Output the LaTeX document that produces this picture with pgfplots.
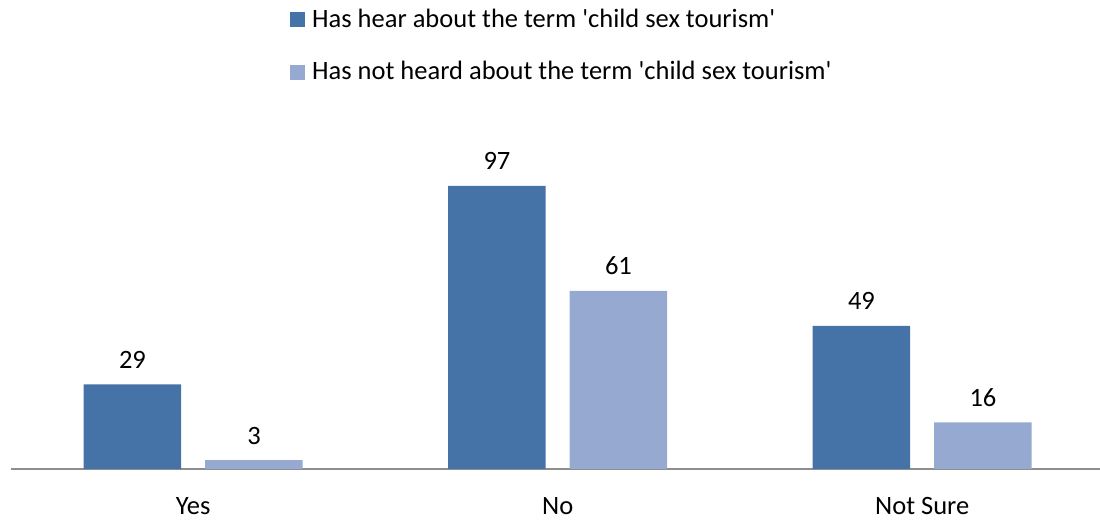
\documentclass[border=0pt]{standalone}
\usepackage{pgfplots}
\pgfplotsset{compat=1.18}
\usepackage{fontspec}
\setmainfont{Carlito}[Ligatures=TeXOff]
\definecolor{darkb}{HTML}{4673A7}
\definecolor{lightb}{HTML}{95A9D1}
\definecolor{axgray}{HTML}{8E8E8E}
\begin{document}
\fontsize{26.5}{32}\selectfont
\begin{tikzpicture}[x=1pt,y=1pt]
\useasboundingbox (0,0) rectangle (1100,521);
\begin{axis}[
  at={(11pt,52pt)}, anchor=south west,
  scale only axis, width=1089pt, height=340pt,
  xmin=-0.5, xmax=2.4877, ymin=0, ymax=116.5,
  ybar=24pt, bar width=97.5pt,
  axis x line*=bottom, axis y line=none,
  x axis line style={axgray, line width=1.5pt},
  xtick={0,1,2}, xticklabels={Yes,No,Not Sure},
  xtick style={draw=none}, ytick=\empty,
  xticklabel style={anchor=base, yshift=-41pt, inner sep=0pt},
  /pgf/number format/assume math mode=true,
  nodes near coords,
  every node near coord/.append style={anchor=base, yshift=16pt, inner sep=0pt, text=black},
  legend image code/.code={\fill[#1] (0pt,-7pt) rectangle (15pt,8pt);},
  legend cell align=left,
  legend style={draw=none, fill=none, inner sep=0pt, at={(0.2562,1.3529)}, anchor=north west,
    nodes={inner sep=0pt}, row sep=30pt,
    /tikz/every odd column/.style={column sep=7pt}},
]
\addplot[fill=darkb, draw=none] coordinates {(0,29) (1,97) (2,49)};
\addplot[fill=lightb, draw=none] coordinates {(0,3) (1,61) (2,16)};
\legend{Has hear about the term 'child sex tourism', Has not heard about the term 'child sex tourism'}
\end{axis}
\end{tikzpicture}
\end{document}
